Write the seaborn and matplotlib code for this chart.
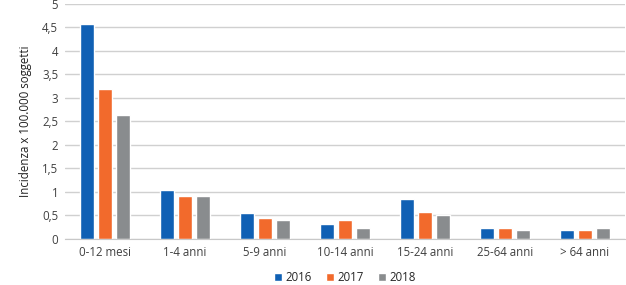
import matplotlib
matplotlib.use("Agg")
import matplotlib.pyplot as plt
import seaborn as sns
import pandas as pd
from matplotlib.ticker import FuncFormatter

categories = ["0-12 mesi", "1-4 anni", "5-9 anni", "10-14 anni", "15-24 anni", "25-64 anni", "> 64 anni"]
years = ["2016", "2017", "2018"]
v2016 = [4.58, 1.04, 0.56, 0.31, 0.85, 0.24, 0.18]
v2017 = [3.20, 0.92, 0.45, 0.41, 0.58, 0.24, 0.18]
v2018 = [2.63, 0.91, 0.40, 0.24, 0.50, 0.18, 0.23]
colors = ["#1060B4", "#F26A2C", "#898C8E"]

rows = []
for yr, vals in zip(years, [v2016, v2017, v2018]):
    for c, v in zip(categories, vals):
        rows.append({"cat": c, "anno": yr, "val": v})
df = pd.DataFrame(rows)

sns.set_style("white")
plt.rcParams["font.family"] = ["Open Sans", "DejaVu Sans"]

fig, ax = plt.subplots(figsize=(6.26, 2.85), dpi=100)
fig.subplots_adjust(left=0.104, right=0.998, top=0.986, bottom=0.162)

sns.barplot(data=df, x="cat", y="val", hue="anno", palette=colors,
            width=0.675, gap=0.22, ax=ax, saturation=1, legend=True)

ax.set_ylim(0, 5)
ax.set_yticks([0, 0.5, 1, 1.5, 2, 2.5, 3, 3.5, 4, 4.5, 5])
ax.yaxis.set_major_formatter(FuncFormatter(lambda v, p: f"{v:g}".replace(".", ",")))
ax.set_xlim(-0.5, len(categories) - 0.5)
ax.grid(axis="y", color="#D0D0D0", linewidth=1)
ax.set_axisbelow(True)
for s in ["top", "right", "left"]:
    ax.spines[s].set_visible(False)
ax.spines["bottom"].set_color("#C8C8C8")
ax.tick_params(axis="both", length=0, labelsize=8.3, colors="#404040", pad=5)
ax.set_xlabel("")
ax.set_ylabel("Incidenza x 100.000 soggetti", fontsize=8.3, color="#202020", labelpad=7)

ax.legend(title=None, loc="center", bbox_to_anchor=(0.5, -0.165), ncol=3,
          frameon=False, fontsize=8.3, handlelength=0.7, handleheight=0.7,
          handletextpad=0.3, columnspacing=1.2)

fig.savefig("out.png", dpi=100)
